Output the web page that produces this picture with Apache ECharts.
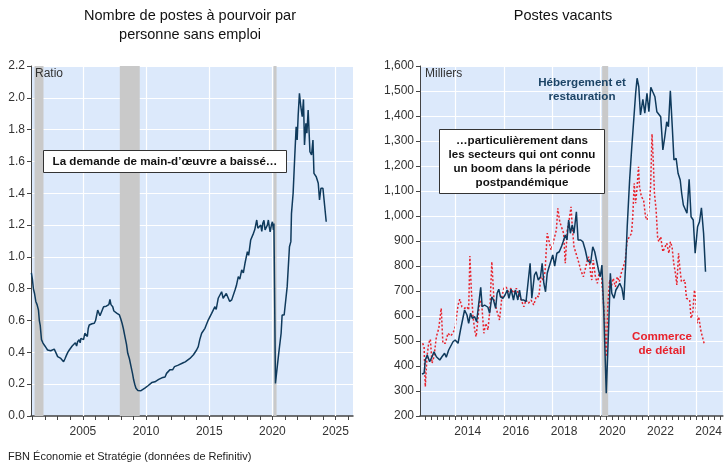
<!DOCTYPE html>
<html><head><meta charset="utf-8">
<script src="https://cdn.jsdelivr.net/npm/echarts@6/dist/echarts.min.js"></script>
<style>html,body{margin:0;padding:0;background:#fff}#c{width:725px;height:468px}</style>
</head><body><div id="c"></div>
<script>
// ---- Left chart: job openings per unemployed person (ratio) ----
const ratioYears = [2000.92,2001.0,2001.08,2001.17,2001.27,2001.37,2001.48,2001.55,2001.62,2001.72,2001.83,2001.94,2002.08,2002.2,2002.33,2002.45,2002.6,2002.73,2002.85,2003.0,2003.1,2003.25,2003.35,2003.47,2003.58,2003.65,2003.8,2003.92,2004.05,2004.15,2004.3,2004.4,2004.5,2004.58,2004.7,2004.78,2004.84,2004.95,2005.05,2005.15,2005.24,2005.35,2005.42,2005.5,2005.6,2005.72,2005.82,2005.9,2006.0,2006.08,2006.17,2006.27,2006.35,2006.43,2006.55,2006.64,2006.75,2006.85,2006.96,2007.05,2007.14,2007.22,2007.36,2007.45,2007.54,2007.7,2007.89,2008.0,2008.1,2008.2,2008.33,2008.45,2008.55,2008.68,2008.81,2008.92,2009.02,2009.1,2009.2,2009.35,2009.5,2009.6,2009.75,2009.9,2010.03,2010.15,2010.3,2010.45,2010.56,2010.7,2010.85,2011.0,2011.09,2011.25,2011.4,2011.5,2011.62,2011.75,2011.88,2012.0,2012.1,2012.25,2012.4,2012.55,2012.7,2012.94,2013.1,2013.25,2013.47,2013.6,2013.75,2013.87,2014.0,2014.13,2014.25,2014.4,2014.5,2014.66,2014.8,2014.92,2015.05,2015.19,2015.3,2015.45,2015.55,2015.71,2015.85,2015.98,2016.1,2016.25,2016.35,2016.5,2016.62,2016.78,2016.9,2017.04,2017.15,2017.3,2017.42,2017.57,2017.7,2017.83,2017.92,2018.02,2018.12,2018.28,2018.4,2018.5,2018.6,2018.68,2018.76,2018.85,2018.97,2019.08,2019.16,2019.24,2019.33,2019.42,2019.5,2019.6,2019.68,2019.75,2019.82,2019.92,2020.0,2020.08,2020.12,2020.24,2020.5,2020.69,2020.77,2020.93,2021.17,2021.35,2021.46,2021.51,2021.64,2021.78,2021.88,2021.96,2022.04,2022.14,2022.25,2022.36,2022.46,2022.54,2022.65,2022.73,2022.83,2022.97,2023.1,2023.21,2023.29,2023.47,2023.63,2023.73,2023.84,2024.0,2024.26];
const ratioValues = [0.90,0.86,0.80,0.77,0.72,0.70,0.666,0.60,0.57,0.48,0.46,0.446,0.43,0.415,0.42,0.41,0.41,0.42,0.40,0.373,0.38,0.362,0.365,0.341,0.36,0.373,0.40,0.415,0.42,0.44,0.436,0.46,0.44,0.467,0.48,0.46,0.488,0.50,0.48,0.52,0.53,0.50,0.55,0.572,0.57,0.58,0.57,0.583,0.60,0.63,0.666,0.66,0.63,0.624,0.67,0.687,0.68,0.69,0.687,0.70,0.733,0.70,0.687,0.66,0.65,0.645,0.635,0.61,0.583,0.55,0.498,0.45,0.394,0.36,0.31,0.27,0.226,0.20,0.174,0.16,0.16,0.159,0.17,0.175,0.184,0.19,0.20,0.21,0.205,0.215,0.22,0.23,0.237,0.24,0.25,0.245,0.268,0.27,0.29,0.30,0.29,0.31,0.31,0.32,0.315,0.335,0.34,0.35,0.362,0.37,0.385,0.394,0.415,0.436,0.48,0.52,0.51,0.551,0.56,0.603,0.61,0.645,0.64,0.687,0.67,0.74,0.73,0.781,0.74,0.75,0.77,0.76,0.72,0.73,0.74,0.792,0.82,0.876,0.86,0.918,0.90,0.96,0.95,1.033,1.01,1.106,1.10,1.148,1.17,1.16,1.232,1.18,1.169,1.20,1.16,1.211,1.23,1.17,1.158,1.20,1.232,1.19,1.158,1.20,1.221,1.169,1.21,0.205,0.394,0.52,0.635,0.635,0.813,1.064,1.096,1.274,1.40,1.651,1.818,1.735,1.89,2.028,1.944,1.881,1.99,1.703,1.84,1.777,1.923,1.661,1.641,1.735,1.525,1.504,1.463,1.358,1.431,1.431,1.221];

// ---- Right chart: job vacancies (thousands) ----
const hospYears = [2012.6,2012.69,2012.74,2012.82,2012.92,2013.02,2013.1,2013.2,2013.34,2013.43,2013.54,2013.61,2013.71,2013.78,2013.89,2013.98,2014.1,2014.2,2014.3,2014.37,2014.47,2014.54,2014.62,2014.69,2014.79,2014.87,2014.96,2015.04,2015.1,2015.2,2015.27,2015.34,2015.41,2015.5,2015.57,2015.66,2015.72,2015.79,2015.86,2015.96,2016.05,2016.14,2016.21,2016.3,2016.4,2016.48,2016.58,2016.65,2016.72,2016.83,2016.92,2016.99,2017.09,2017.16,2017.27,2017.34,2017.43,2017.52,2017.59,2017.66,2017.73,2017.8,2017.86,2017.93,2018.03,2018.11,2018.2,2018.3,2018.4,2018.46,2018.55,2018.62,2018.69,2018.76,2018.84,2018.91,2019.01,2019.08,2019.19,2019.28,2019.38,2019.47,2019.55,2019.6,2019.69,2019.77,2019.85,2019.93,2020.0,2020.07,2020.15,2020.25,2020.35,2020.42,2020.48,2020.57,2020.65,2020.73,2020.81,2020.9,2020.98,2021.05,2021.12,2021.22,2021.31,2021.4,2021.47,2021.53,2021.6,2021.67,2021.77,2021.85,2021.94,2022.02,2022.1,2022.18,2022.27,2022.35,2022.43,2022.51,2022.6,2022.68,2022.76,2022.83,2022.91,2022.99,2023.06,2023.15,2023.23,2023.32,2023.38,2023.45,2023.52,2023.6,2023.69,2023.77,2023.86,2023.94,2024.04,2024.12,2024.2,2024.29,2024.37];
const hospValues = [368,371,424,444,417,437,457,437,424,437,451,435,464,457,497,504,491,544,591,624,604,571,611,591,597,577,651,715,637,644,651,635,611,677,664,631,691,707,677,671,684,704,671,707,664,704,664,704,664,664,657,664,811,671,764,777,744,757,811,731,697,771,791,797,844,800,851,857,880,897,924,904,984,931,964,931,1017,904,904,897,864,824,831,811,877,857,851,784,757,804,611,291,557,771,691,671,704,717,731,711,664,797,957,1144,1277,1397,1491,1551,1517,1404,1467,1411,1491,1417,1515,1497,1477,1417,1411,1397,1264,1317,1377,1357,1501,1357,1224,1231,1171,1144,1091,1044,1051,1011,1147,997,984,851,957,977,1033,931,777];
const retailYears = [2012.63,2012.69,2012.74,2012.81,2012.88,2012.95,2013.02,2013.1,2013.2,2013.3,2013.4,2013.47,2013.57,2013.68,2013.78,2013.89,2013.98,2014.1,2014.17,2014.26,2014.37,2014.47,2014.54,2014.59,2014.65,2014.72,2014.79,2014.85,2014.92,2015.0,2015.09,2015.17,2015.25,2015.34,2015.42,2015.5,2015.59,2015.7,2015.82,2015.92,2016.0,2016.1,2016.19,2016.3,2016.41,2016.52,2016.63,2016.75,2016.83,2016.92,2017.02,2017.13,2017.24,2017.35,2017.45,2017.54,2017.63,2017.71,2017.8,2017.88,2017.96,2018.04,2018.12,2018.18,2018.24,2018.32,2018.4,2018.48,2018.55,2018.63,2018.71,2018.79,2018.84,2018.91,2018.99,2019.08,2019.19,2019.3,2019.38,2019.47,2019.53,2019.6,2019.65,2019.71,2019.8,2019.88,2019.96,2020.04,2020.11,2020.18,2020.25,2020.32,2020.39,2020.46,2020.54,2020.63,2020.71,2020.79,2020.87,2020.96,2021.04,2021.12,2021.22,2021.3,2021.35,2021.41,2021.47,2021.52,2021.59,2021.63,2021.71,2021.8,2021.88,2021.95,2022.02,2022.09,2022.15,2022.2,2022.25,2022.32,2022.38,2022.43,2022.51,2022.6,2022.68,2022.76,2022.85,2022.91,2022.98,2023.05,2023.12,2023.18,2023.25,2023.3,2023.37,2023.44,2023.51,2023.58,2023.65,2023.71,2023.77,2023.84,2023.91,2023.96,2024.02,2024.09,2024.17,2024.24,2024.33];
const retailValues = [491,477,317,437,491,507,411,437,517,551,631,491,491,531,520,531,557,644,667,637,631,637,624,840,704,597,544,517,584,664,637,531,571,544,624,817,664,624,584,677,711,715,697,711,691,711,684,657,637,664,651,664,644,680,677,757,744,777,931,931,864,891,891,944,1031,977,971,931,811,944,984,1037,957,877,877,824,784,757,757,824,837,771,744,824,757,731,771,751,691,584,437,651,744,717,751,717,757,737,771,797,824,904,917,931,997,1131,1051,1104,1197,1117,1077,1064,997,984,1024,1117,1328,1224,1091,1024,917,897,917,857,851,891,851,897,877,811,771,724,851,797,737,731,744,671,664,664,591,611,704,677,571,597,544,517,484];

// ---- Axis labels, ticks, recession bands ----
const leftYearLabels = [2005, 2010, 2015, 2020, 2025];
const leftYearTicks = [2001,2002,2003,2004,2005,2006,2007,2008,2009,2010,2011,2012,2013,2014,2015,2016,2017,2018,2019,2020,2021,2022,2023,2024,2025,2026];
const rightYearLabels = [2014, 2016, 2018, 2020, 2022, 2024];
const rightGridYears = [2014, 2016, 2018, 2020, 2022, 2024];
const recessionsLeft = [[2001.17, 2001.88], [2007.92, 2009.5], [2020.08, 2020.33]];
const recessionsRight = [[2020.08, 2020.33]];

const rightQuarterTicks = [];
for (let y = 2012.75; y <= 2025.01; y += 0.25) rightQuarterTicks.push(+y.toFixed(2));

const FONT = '"Liberation Sans", Arial, sans-serif';
const AX = '#333';
const NAVY = '#0f3a5c';
const RED = '#e8222c';

const chart = echarts.init(document.getElementById('c'), null, {renderer: 'canvas'});

function pairs(xs, ys) { return xs.map((x, i) => [x, ys[i]]); }

const bandColor = '#c9c9c9';
const option = {
  animation: false,
  textStyle: {fontFamily: FONT},
  grid: [
    {left: 31, top: 66, width: 322, height: 350, show: true, backgroundColor: '#dce9fb', borderWidth: 0},
    {left: 420, top: 66, width: 303, height: 350, show: true, backgroundColor: '#dce9fb', borderWidth: 0}
  ],
  xAxis: [
    {type: 'value', gridIndex: 0, min: 2000.89, max: 2026.38,
     axisLine: {show: true, onZero: false, lineStyle: {color: '#444', width: 1.5}},
     axisTick: {show: true, length: 4, customValues: leftYearTicks, lineStyle: {color: '#444'}},
     axisLabel: {customValues: leftYearLabels, formatter: v => String(Math.round(v)), color: AX, fontSize: 12, margin: 10},
     splitLine: {show: false}},
    {type: 'value', gridIndex: 1, min: 2012.52, max: 2025.09,
     axisLine: {show: true, onZero: false, lineStyle: {color: '#444', width: 1.5}},
     axisTick: {show: true, length: 4, customValues: rightQuarterTicks, lineStyle: {color: '#444'}},
     axisLabel: {customValues: rightYearLabels.map(y => y + 0.5), formatter: v => String(Math.floor(v)), color: AX, fontSize: 12, margin: 10},
     splitLine: {show: false}}
  ],
  yAxis: [
    {type: 'value', gridIndex: 0, min: 0, max: 2.2, interval: 0.2,
     axisLine: {show: true, lineStyle: {color: '#444'}},
     axisTick: {show: true, length: 4, lineStyle: {color: '#444'}},
     axisLabel: {formatter: v => v.toFixed(1), color: AX, fontSize: 12, margin: 6},
     splitLine: {show: true, lineStyle: {color: '#ffffff', width: 1.2}}},
    {type: 'value', gridIndex: 1, min: 200, max: 1600, interval: 100,
     axisLine: {show: true, lineStyle: {color: '#444'}},
     axisTick: {show: true, length: 4, lineStyle: {color: '#444'}},
     axisLabel: {formatter: v => v.toLocaleString('en-US'), color: AX, fontSize: 12, margin: 6},
     splitLine: {show: true, lineStyle: {color: '#ffffff', width: 1.2}}}
  ],
  series: [
    {type: 'line', xAxisIndex: 0, yAxisIndex: 0, data: [], z: 1, silent: true,
     markLine: {silent: true, symbol: 'none', label: {show: false},
       lineStyle: {color: '#ffffff', width: 1.2, type: 'solid'},
       data: leftYearLabels.map(y => ({xAxis: y}))}},
    {type: 'line', xAxisIndex: 1, yAxisIndex: 1, data: [], z: 1, silent: true,
     markLine: {silent: true, symbol: 'none', label: {show: false},
       lineStyle: {color: '#ffffff', width: 1.2, type: 'solid'},
       data: rightGridYears.map(y => ({xAxis: y}))}},
    {type: 'line', xAxisIndex: 0, yAxisIndex: 0, data: [], z: 2, silent: true,
     markArea: {silent: true, itemStyle: {color: bandColor},
       data: recessionsLeft.map(r => [{xAxis: r[0]}, {xAxis: r[1]}])}},
    {type: 'line', xAxisIndex: 1, yAxisIndex: 1, data: [], z: 2, silent: true,
     markArea: {silent: true, itemStyle: {color: bandColor},
       data: recessionsRight.map(r => [{xAxis: r[0]}, {xAxis: r[1]}])}},
    {name: 'Ratio', type: 'line', xAxisIndex: 0, yAxisIndex: 0, z: 5,
     data: pairs(ratioYears, ratioValues), showSymbol: false,
     lineStyle: {color: NAVY, width: 1.5}},
    {name: 'Commerce de détail', type: 'line', xAxisIndex: 1, yAxisIndex: 1, z: 4,
     data: pairs(retailYears, retailValues), showSymbol: false,
     lineStyle: {color: RED, width: 1.5, type: [2, 2]}},
    {name: 'Hébergement et restauration', type: 'line', xAxisIndex: 1, yAxisIndex: 1, z: 5,
     data: pairs(hospYears, hospValues), showSymbol: false,
     lineStyle: {color: NAVY, width: 1.5}}
  ],
  graphic: [
    {type: 'text', x: 190, y: 16, z: 10, style: {text: 'Nombre de postes à pourvoir par', align: 'center', verticalAlign: 'middle', font: '14.5px ' + FONT, fill: '#111'}},
    {type: 'text', x: 190, y: 35, z: 10, style: {text: 'personne sans emploi', align: 'center', verticalAlign: 'middle', font: '14.5px ' + FONT, fill: '#111'}},
    {type: 'text', x: 563, y: 16, z: 10, style: {text: 'Postes vacants', align: 'center', verticalAlign: 'middle', font: '14.5px ' + FONT, fill: '#111'}},
    {type: 'text', x: 35, y: 74, z: 10, style: {text: 'Ratio', align: 'left', verticalAlign: 'middle', font: '12px ' + FONT, fill: '#333'}},
    {type: 'text', x: 425, y: 74, z: 10, style: {text: 'Milliers', align: 'left', verticalAlign: 'middle', font: '12px ' + FONT, fill: '#333'}},
    {type: 'rect', z: 10, shape: {x: 43.5, y: 150.5, width: 243, height: 22}, style: {fill: '#fff', stroke: '#333', lineWidth: 1}},
    {type: 'text', x: 165, y: 161.5, z: 11, style: {text: 'La demande de main-d’œuvre a baissé…', align: 'center', verticalAlign: 'middle', font: 'bold 11.6px ' + FONT, fill: '#111'}},
    {type: 'rect', z: 10, shape: {x: 439.5, y: 129.5, width: 165, height: 64}, style: {fill: '#fff', stroke: '#333', lineWidth: 1}},
    {type: 'text', x: 522, y: 161.5, z: 11, style: {text: '…particulièrement dans\nles secteurs qui ont connu\nun boom dans la période\npostpandémique', align: 'center', verticalAlign: 'middle', lineHeight: 14, font: 'bold 11.6px ' + FONT, fill: '#111'}},
    {type: 'text', x: 582, y: 90, z: 11, style: {text: 'Hébergement et\nrestauration', align: 'center', verticalAlign: 'middle', lineHeight: 14, font: 'bold 11.6px ' + FONT, fill: '#1c4466'}},
    {type: 'text', x: 662, y: 343.5, z: 11, style: {text: 'Commerce\nde détail', align: 'center', verticalAlign: 'middle', lineHeight: 14, font: 'bold 11.6px ' + FONT, fill: RED}},
    {type: 'text', x: 8, y: 457, z: 10, style: {text: 'FBN Économie et Stratégie (données de Refinitiv)', align: 'left', verticalAlign: 'middle', font: '11px ' + FONT, fill: '#222'}}
  ]
};
chart.setOption(option);
</script>
</body></html>
